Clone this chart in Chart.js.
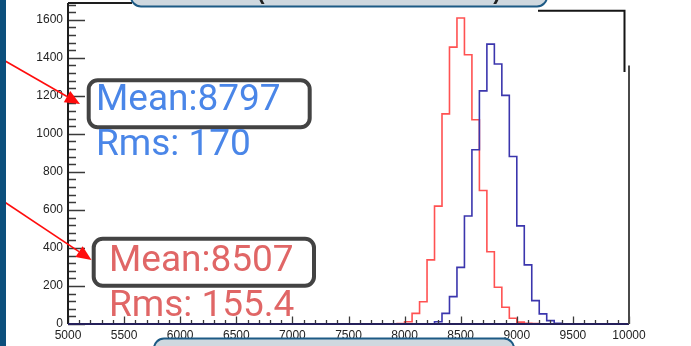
<!DOCTYPE html>
<html>
<head>
<meta charset="utf-8">
<script src="https://cdn.jsdelivr.net/npm/chart.js@4/dist/chart.umd.min.js"></script>
<style>
  html, body { margin: 0; padding: 0; background: #ffffff; }
  #wrap { position: relative; width: 691px; height: 346px; }
</style>
</head>
<body>
<div id="wrap"><canvas id="c" width="691" height="346"></canvas></div>
<script>
// Histogram binning: 75 equal bins between 5000 and 10000
const binLow = 5000;
const binHigh = 10000;
const nBins = 75;

// Red histogram: counts of the occupied bins, starting at bin index redFirstBin
const redFirstBin = 44;
const redCounts = [3, 12, 56, 117, 337, 620, 1105, 1456, 1609, 1416, 1074, 702, 380, 193, 88, 30, 10, 4, 2];

// Blue histogram: counts of the occupied bins, starting at bin index blueFirstBin
const blueFirstBin = 49;
const blueCounts = [12, 56, 144, 298, 568, 916, 1226, 1472, 1367, 1202, 881, 516, 311, 123, 53, 18, 4, 1];

// Axis ranges and tick spacing
const yMax = 1688;
const xMajorStep = 500, xMinorStep = 100;
const yMajorStep = 200, yMinorStep = 40;

// Statistics boxes
const blueStats = ['Mean:8797', 'Rms: 170'];
const redStats = ['Mean:8507', 'Rms: 155.4'];

function histPoints(first, counts) {
  const w = (binHigh - binLow) / nBins;
  const pts = [];
  for (let i = 0; i <= nBins; i++) {
    const inside = i >= first && i < first + counts.length;
    pts.push({ x: binLow + i * w, y: (i < nBins && inside) ? counts[i - first] : 0 });
  }
  return pts;
}

function roundRect(ctx, x, y, w, h, r) {
  ctx.beginPath();
  ctx.moveTo(x + r, y);
  ctx.lineTo(x + w - r, y);
  ctx.arcTo(x + w, y, x + w, y + r, r);
  ctx.lineTo(x + w, y + h - r);
  ctx.arcTo(x + w, y + h, x + w - r, y + h, r);
  ctx.lineTo(x + r, y + h);
  ctx.arcTo(x, y + h, x, y + h - r, r);
  ctx.lineTo(x, y + r);
  ctx.arcTo(x, y, x + r, y, r);
  ctx.closePath();
}

function arrow(ctx, x0, y0, x1, y1, color) {
  const ang = Math.atan2(y1 - y0, x1 - x0);
  const len = 15, half = 6.5;
  const bx = x1 - len * Math.cos(ang), by = y1 - len * Math.sin(ang);
  ctx.strokeStyle = color;
  ctx.lineWidth = 1.6;
  ctx.beginPath();
  ctx.moveTo(x0, y0);
  ctx.lineTo(bx, by);
  ctx.stroke();
  ctx.fillStyle = color;
  ctx.beginPath();
  ctx.moveTo(x1, y1);
  ctx.lineTo(bx + half * Math.sin(ang), by - half * Math.cos(ang));
  ctx.lineTo(bx - half * Math.sin(ang), by + half * Math.cos(ang));
  ctx.closePath();
  ctx.fill();
}

// Inward tick marks and frame, in the style of a ROOT canvas
const framePlugin = {
  id: 'frame',
  afterDatasetsDraw(chart) {
    const ctx = chart.ctx;
    const xs = chart.scales.x, ys = chart.scales.y;
    const a = chart.chartArea;
    ctx.save();
    ctx.strokeStyle = '#3a3a3a';
    ctx.lineWidth = 1.3;
    ctx.beginPath();
    for (let v = binLow; v <= binHigh + 0.1; v += xMinorStep) {
      const px = Math.round(xs.getPixelForValue(v)) + 0.5;
      const major = Math.abs(v % xMajorStep) < 0.1;
      ctx.moveTo(px, a.bottom);
      ctx.lineTo(px, a.bottom - (major ? 7.5 : 4));
    }
    for (let v = 0; v <= yMax; v += yMinorStep) {
      const py = Math.round(ys.getPixelForValue(v)) + 0.5;
      const major = v % yMajorStep === 0;
      ctx.moveTo(a.left, py);
      ctx.lineTo(a.left + (major ? 17 : 8), py);
    }
    ctx.stroke();

    // axis lines
    ctx.strokeStyle = '#1e1e1e';
    ctx.lineWidth = 2;
    ctx.beginPath();
    ctx.moveTo(a.left, a.top);
    ctx.lineTo(a.left, a.bottom);
    ctx.moveTo(a.left, a.top);
    ctx.lineTo(132, a.top);
    ctx.stroke();
    ctx.strokeStyle = '#25205a';
    ctx.beginPath();
    ctx.moveTo(a.left, a.bottom);
    ctx.lineTo(a.right, a.bottom);
    ctx.stroke();
    ctx.strokeStyle = '#4a4a4a';
    ctx.beginPath();
    ctx.moveTo(a.right, 65.5);
    ctx.lineTo(a.right, a.bottom);
    ctx.stroke();
    ctx.restore();
  },
  afterDraw(chart) {
    const ctx = chart.ctx;
    ctx.save();

    // slide boxes at the top and bottom edges
    ctx.fillStyle = '#cfd8df';
    ctx.strokeStyle = '#1d5a85';
    ctx.lineWidth = 2;
    roundRect(ctx, 131, -20, 416, 26.5, 10);
    ctx.fill(); ctx.stroke();
    roundRect(ctx, 154, 338.5, 360, 30, 10);
    ctx.fill(); ctx.stroke();
    ctx.fillStyle = '#222';
    ctx.font = 'bold 22px "Liberation Sans"';
    ctx.textBaseline = 'alphabetic';
    ctx.textAlign = 'center';
    ctx.fillText('(', 261, -1.5);
    ctx.fillText(')', 497, -1.5);

    // bracket line at the top right
    ctx.strokeStyle = '#151515';
    ctx.lineWidth = 2;
    ctx.beginPath();
    ctx.moveTo(538, 10.7);
    ctx.lineTo(624.5, 10.7);
    ctx.lineTo(624.5, 72);
    ctx.stroke();

    // arrows pointing at the statistics boxes
    arrow(ctx, 0, 58, 80, 104, '#ff0d0d');
    arrow(ctx, 0, 199, 91.5, 260, '#ff0d0d');

    // left edge bar
    ctx.fillStyle = '#0c4f7c';
    ctx.fillRect(0, 0, 6, 346);

    // statistics boxes
    ctx.strokeStyle = '#434343';
    ctx.lineWidth = 4;
    roundRect(ctx, 88.7, 80.3, 221, 47, 9);
    ctx.stroke();
    roundRect(ctx, 93.7, 238.7, 220.3, 47, 9);
    ctx.stroke();

    ctx.textAlign = 'left';
    ctx.font = '37px Roboto';
    ctx.fillStyle = '#4a86e8';
    ctx.fillText(blueStats[0], 96, 110);
    ctx.fillText(blueStats[1], 96, 155);
    ctx.fillStyle = '#e06666';
    ctx.fillText(redStats[0], 109, 270.5);
    ctx.fillText(redStats[1], 109, 316);
    ctx.restore();
  }
};

new Chart(document.getElementById('c'), {
  type: 'line',
  data: {
    datasets: [
      {
        label: 'blue',
        data: histPoints(blueFirstBin, blueCounts),
        borderColor: '#3b36ad',
        borderWidth: 1.6,
        stepped: 'before',
        pointRadius: 0,
        fill: false,
        order: 0
      },
      {
        label: 'red',
        data: histPoints(redFirstBin, redCounts),
        borderColor: '#ff5252',
        borderWidth: 1.6,
        stepped: 'before',
        pointRadius: 0,
        fill: false,
        order: 1
      }
    ]
  },
  options: {
    responsive: false,
    animation: false,
    events: [],
    layout: { padding: { left: 0, right: 62, top: 3, bottom: 0 } },
    plugins: { legend: { display: false }, tooltip: { enabled: false } },
    scales: {
      x: {
        type: 'linear',
        min: binLow,
        max: binHigh,
        grid: { display: false, drawTicks: false },
        border: { display: false },
        afterFit(s) { s.height = 22; s.paddingLeft = 0; s.paddingRight = 0; },
        ticks: {
          stepSize: xMajorStep,
          autoSkip: false,
          maxRotation: 0,
          padding: 4,
          color: '#222',
          font: { family: '"Liberation Sans", Arial, sans-serif', size: 12 },
          callback: v => String(v)
        }
      },
      y: {
        type: 'linear',
        min: 0,
        max: yMax,
        grid: { display: false, drawTicks: false },
        border: { display: false },
        afterFit(s) { s.width = 68; s.paddingTop = 0; s.paddingBottom = 0; },
        afterBuildTicks(s) { s.ticks = s.ticks.filter(t => t.value % yMajorStep === 0); },
        ticks: {
          stepSize: yMajorStep,
          padding: 5,
          color: '#222',
          font: { family: '"Liberation Sans", Arial, sans-serif', size: 12 },
          callback: v => String(v)
        }
      }
    }
  },
  plugins: [framePlugin]
});
</script>
</body>
</html>
